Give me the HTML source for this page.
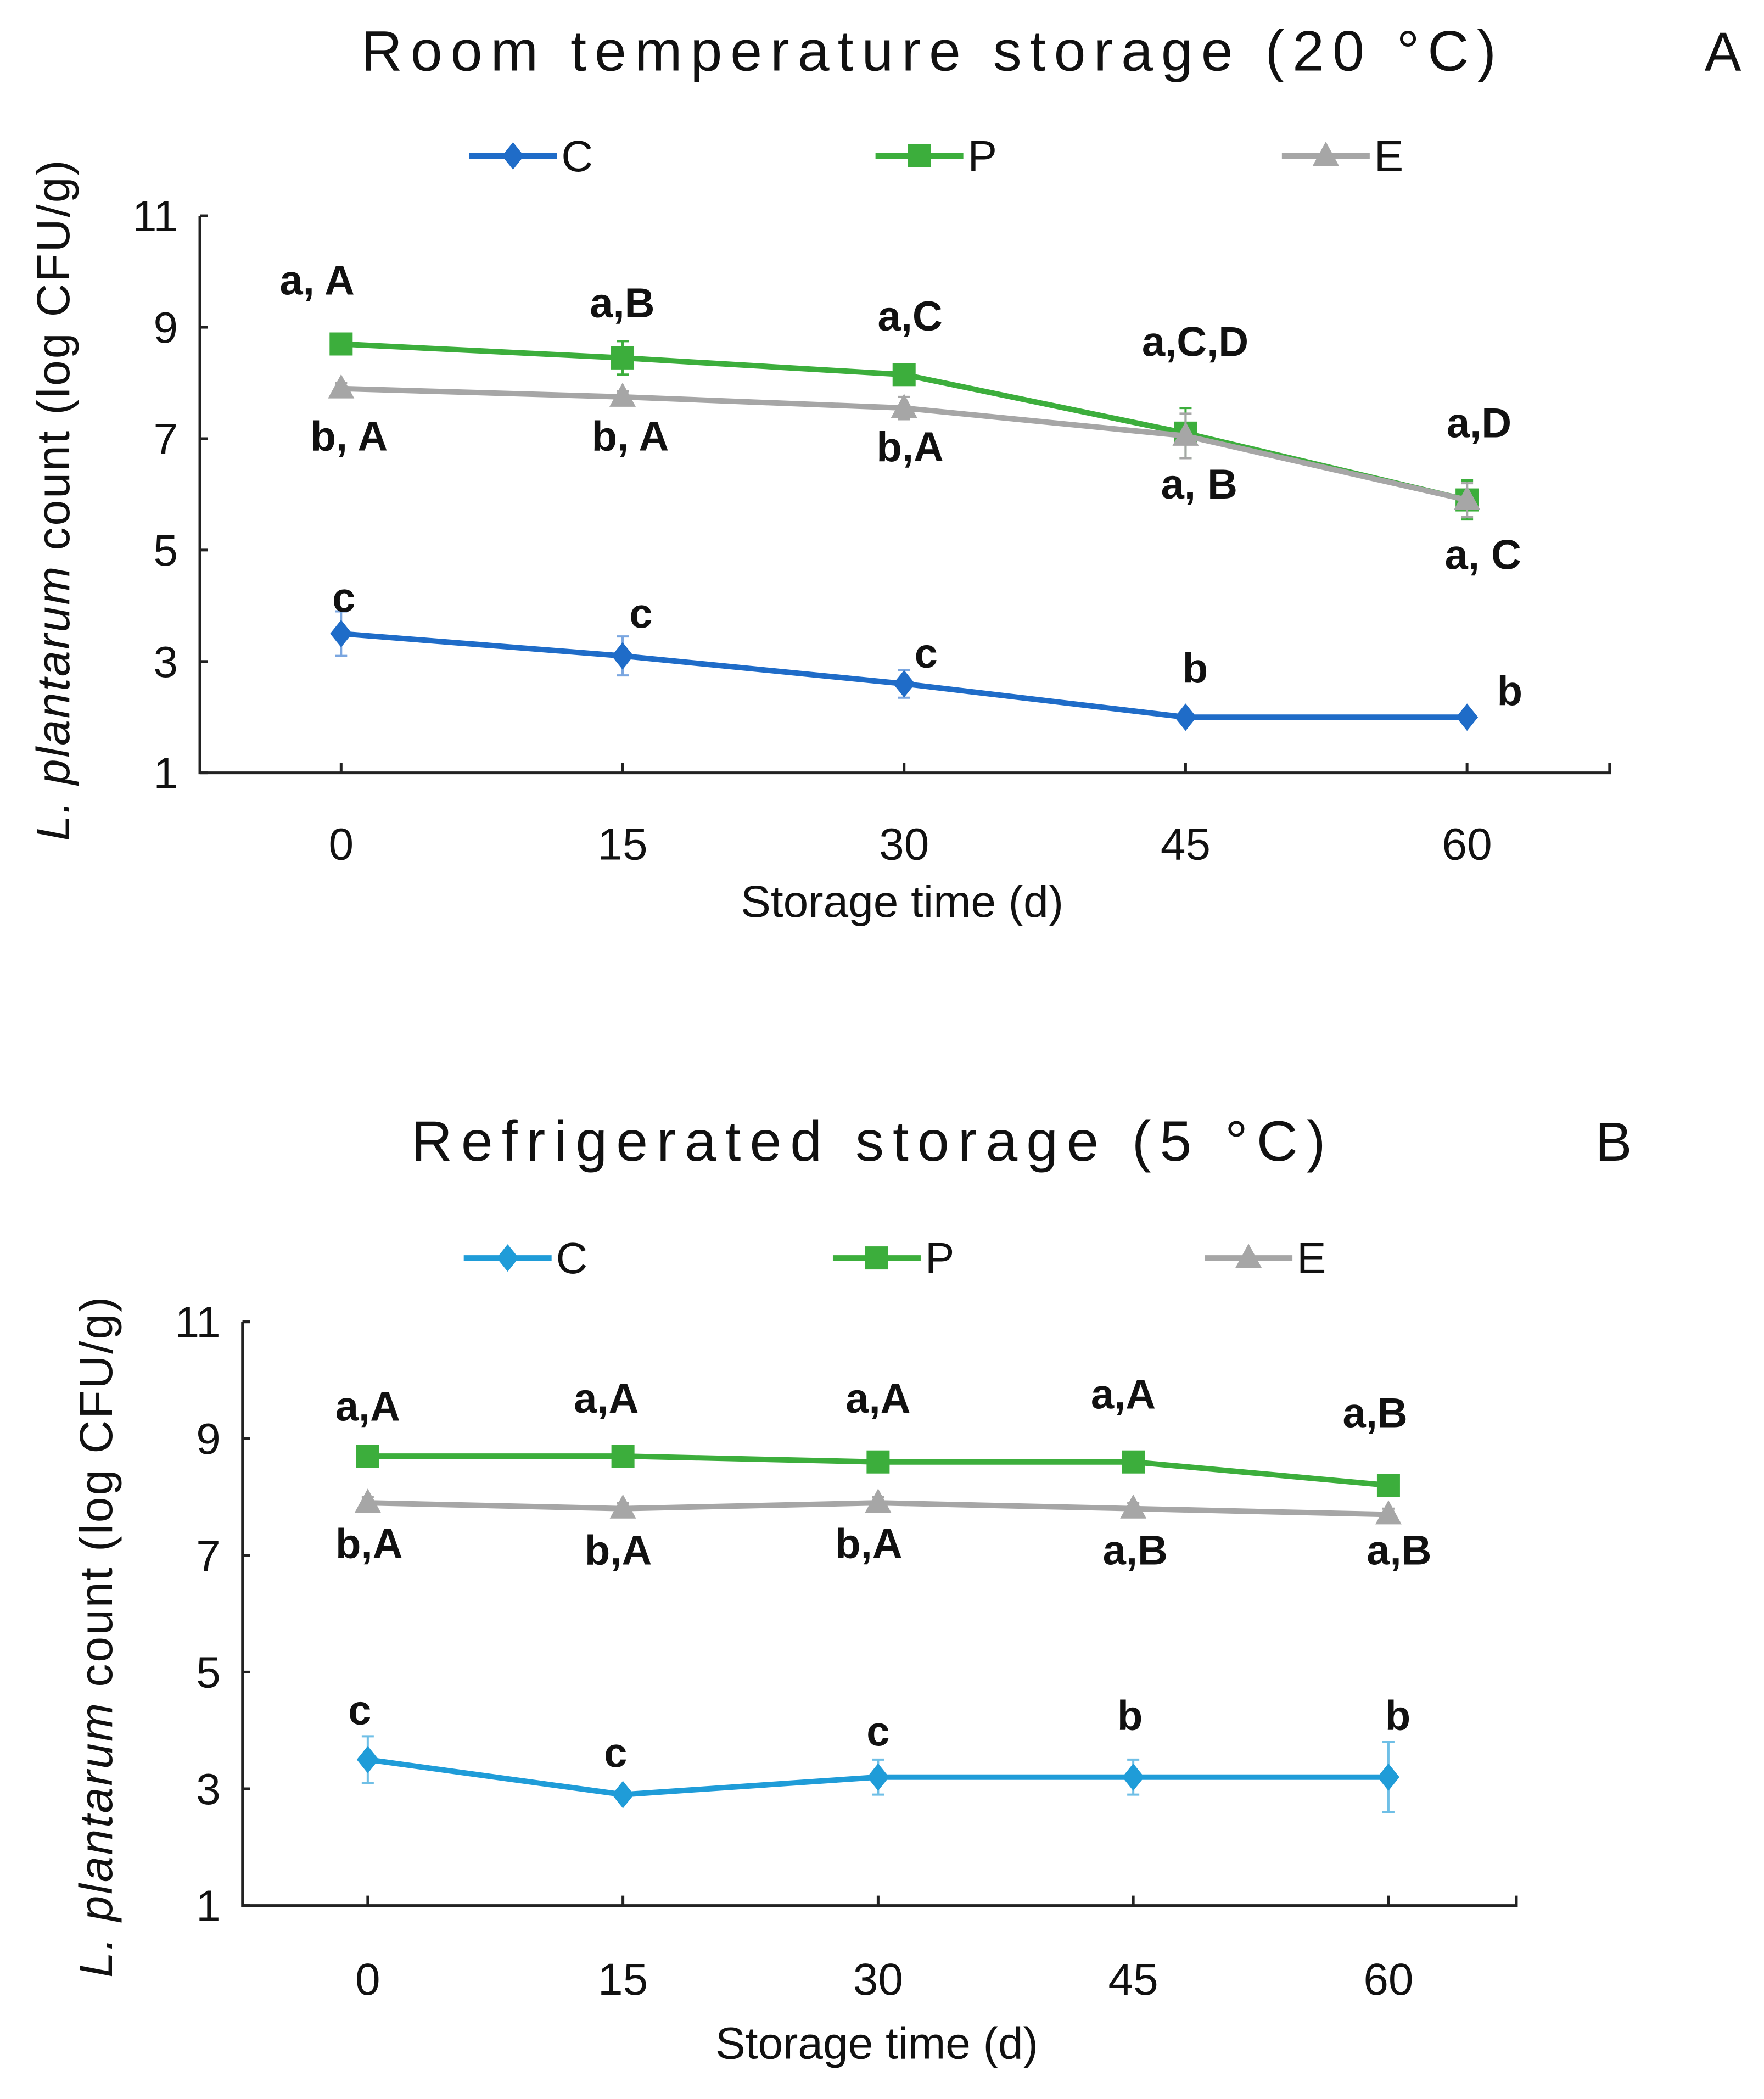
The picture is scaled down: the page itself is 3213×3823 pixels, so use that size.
<!DOCTYPE html>
<html><head><meta charset="utf-8"><style>
html,body{margin:0;padding:0;background:#fff;}
svg{display:block;font-family:"Liberation Sans",sans-serif;}
</style></head><body>
<svg id="fig" width="3213" height="3823" viewBox="0 0 3213 3823" xmlns="http://www.w3.org/2000/svg"></svg>
<script>
const days = [0, 15, 30, 45, 60];
const yTicks = [1, 3, 5, 7, 9, 11];
// Chart A (20 °C)
const aC = [3.5, 3.1, 2.6, 2.0, 2.0];
const aCerr = [0.4, 0.35, 0.25, 0.05, 0.05];
const aP = [8.7, 8.45, 8.15, 7.1, 5.9];
const aPerr = [0.1, 0.3, 0.15, 0.45, 0.35];
const aE = [7.9, 7.75, 7.55, 7.05, 5.9];
const aEerr = [0.1, 0.1, 0.2, 0.4, 0.3];
const aPlab = ["a, A", "a,B", "a,C", "a,C,D", "a,D"];
const aElab = ["b, A", "b, A", "b,A", "a, B", "a, C"];
const aClab = ["c", "c", "c", "b", "b"];
// Chart B (5 °C)
const bC = [3.5, 2.9, 3.2, 3.2, 3.2];
const bCerr = [0.4, 0.05, 0.3, 0.3, 0.6];
const bP = [8.7, 8.7, 8.6, 8.6, 8.2];
const bPerr = [0.1, 0.1, 0.1, 0.1, 0.1];
const bE = [7.9, 7.8, 7.9, 7.8, 7.7];
const bEerr = [0.1, 0.1, 0.1, 0.1, 0.1];
const bPlab = ["a,A", "a,A", "a,A", "a,A", "a,B"];
const bElab = ["b,A", "b,A", "b,A", "a,B", "a,B"];
const bClab = ["c", "c", "c", "b", "b"];

const NS = "http://www.w3.org/2000/svg";
const svg = document.getElementById("fig");
function mk(tag, attrs, parent, text) {
  const e = document.createElementNS(NS, tag);
  for (const k in attrs) e.setAttribute(k, attrs[k]);
  if (text !== undefined) e.textContent = text;
  (parent || svg).appendChild(e);
  return e;
}
function marker(g, kind, x, y, color) {
  let m;
  if (kind === "diamond") m = mk("polygon", {points: `${x},${y-25} ${x+20},${y} ${x},${y+25} ${x-20},${y}`, fill: color}, g);
  else if (kind === "square") m = mk("rect", {x: x-21, y: y-21, width: 42, height: 42, fill: color}, g);
  else m = mk("polygon", {points: `${x},${y-26} ${x+24},${y+18} ${x-24},${y+18}`, fill: color}, g);
  return m;
}
function chart(c) {
  const g = mk("g", {});
  
  
  const xs = d => c.x0 + (d - days[0]) / (days[days.length-1] - days[0]) * (c.x60 - c.x0);
  const ys = v => c.y1 + (v - 1) / 10 * (c.y11 - c.y1);
  const t = mk("text", {x: c.titleX, y: c.titleY, "font-size": 104, "text-anchor": "middle", fill: "#111", "letter-spacing": c.ls}, g, c.title);
  
  
  const pl = mk("text", {x: c.panelX, y: c.titleY, "font-size": 100, "text-anchor": "middle", fill: "#111"}, g, c.panel);
  
  
  const ax = mk("path", {d: `M${c.axX},${c.y11} H${c.axX+14} M${c.axX},${c.y11} V${c.y1} H${c.axR} V${c.y1-18}`, stroke: "#222", "stroke-width": 5, fill: "none"}, g);
  
  
  yTicks.forEach(v => {
    const y = ys(v);
    mk("line", {x1: c.axX, x2: c.axX+14, y1: y, y2: y, stroke: "#222", "stroke-width": 5}, g);
    const tl = mk("text", {x: c.axX-40, y: y+28, "font-size": 80, "text-anchor": "end", fill: "#111"}, g, v);
    
    
  });
  days.forEach(d => {
    const x = xs(d);
    mk("line", {x1: x, x2: x, y1: c.y1, y2: c.y1-18, stroke: "#222", "stroke-width": 5}, g);
    const tl = mk("text", {x: x, y: c.xTickY, "font-size": 82, "text-anchor": "middle", fill: "#111"}, g, d);
    
    
  });
  const xt = mk("text", {x: c.xTitleX, y: c.xTitleY, "font-size": 82, "text-anchor": "middle", fill: "#111"}, g, "Storage time (d)");
  
  
  const yt = mk("text", {x: 0, y: 0, "font-size": 84, "text-anchor": "middle", fill: "#111", "letter-spacing": 3, transform: `translate(${c.yTitleX},${c.yTitleY}) rotate(-90)`}, g);
  
  
  mk("tspan", {"font-style": "italic"}, yt, "L. plantarum");
  mk("tspan", {}, yt, "  count (log CFU/g)");
  c.series.forEach(s => {
    const sg = mk("g", {}, g);
    
    
    const pts = s.vals.map((v, i) => `${xs(days[i])},${ys(v)}`).join(" ");
    s.vals.forEach((v, i) => {
      const x = xs(days[i]);
      const e = mk("path", {d: `M${x},${ys(v - s.err[i])} V${ys(v + s.err[i])} M${x-11},${ys(v - s.err[i])} h22 M${x-11},${ys(v + s.err[i])} h22`, stroke: s.errColor, "stroke-width": 4, fill: "none"}, sg);
      
      
    });
    const ln = mk("polyline", {points: pts, fill: "none", stroke: s.color, "stroke-width": 10}, sg);
    
    
    s.vals.forEach((v, i) => {
      const m = marker(sg, s.marker, xs(days[i]), ys(v), s.color);
      
      
    });
    s.labs.forEach((l, i) => {
      const tl = mk("text", {x: s.lx[i], y: s.ly[i] + 27, "font-size": 76, "font-weight": "bold", "text-anchor": "middle", fill: "#111"}, sg, l);
      
      
    });
    const lg = mk("g", {}, g);
    
    
    mk("line", {x1: s.legX-80, x2: s.legX+80, y1: c.legY, y2: c.legY, stroke: s.color, "stroke-width": 10}, lg);
    marker(lg, s.marker, s.legX, c.legY, s.color);
    mk("text", {x: s.legX+88, y: c.legY+28, "font-size": 80, fill: "#111"}, lg, s.key);
  });
}
const k = 2.427;
chart({name: "chart-room-temperature", title: "Room temperature storage (20 °C)", panel: "A", ls: 15,
  titleX: 700*k, titleY: 53*k, panelX: 1293*k, axX: 150*k, axR: 1208*k, y11: 162*k, y1: 580*k,
  x0: 256*k, x60: 1101*k, xTickY: 645*k, xTitleX: 677*k, xTitleY: 688*k, yTitleX: 52*k, yTitleY: 375*k, legY: 117*k,
  series: [
    {key: "C", vals: aC, err: aCerr, labs: aClab, color: "#1f6cc8", errColor: "#7aa6e0", marker: "diamond", legX: 385*k,
      lx: [258,481,695,897,1133].map(v=>v*k), ly: [448,460,490,501,518].map(v=>v*k)},
    {key: "P", vals: aP, err: aPerr, labs: aPlab, color: "#3cae3c", errColor: "#3cae3c", marker: "square", legX: 690*k,
      lx: [238,467,683,897,1110].map(v=>v*k), ly: [210,227,237,256,317].map(v=>v*k)},
    {key: "E", vals: aE, err: aEerr, labs: aElab, color: "#a6a6a6", errColor: "#a6a6a6", marker: "triangle", legX: 995*k,
      lx: [262,473,683,900,1113].map(v=>v*k), ly: [327,327,335,363,416].map(v=>v*k)}
  ]});
chart({name: "chart-refrigerated", title: "Refrigerated storage (5 °C)", panel: "B", ls: 16,
  titleX: 655*k, titleY: 871*k, panelX: 1211*k, axX: 182*k, axR: 1138*k, y11: 992*k, y1: 1430*k,
  x0: 276*k, x60: 1042*k, xTickY: 1497*k, xTitleX: 658*k, xTitleY: 1545*k, yTitleX: 84*k, yTitleY: 1228*k, legY: 944*k,
  series: [
    {key: "C", vals: bC, err: bCerr, labs: bClab, color: "#1f9cd8", errColor: "#6fbfe6", marker: "diamond", legX: 381*k,
      lx: [270,462,659,848,1049].map(v=>v*k), ly: [1283,1315,1299,1287,1287].map(v=>v*k)},
    {key: "P", vals: bP, err: bPerr, labs: bPlab, color: "#3cae3c", errColor: "#3cae3c", marker: "square", legX: 658*k,
      lx: [276,455,659,843,1032].map(v=>v*k), ly: [1055,1049,1049,1046,1060].map(v=>v*k)},
    {key: "E", vals: bE, err: bEerr, labs: bElab, color: "#a6a6a6", errColor: "#a6a6a6", marker: "triangle", legX: 937*k,
      lx: [277,464,652,852,1050].map(v=>v*k), ly: [1158,1163,1158,1163,1163].map(v=>v*k)}
  ]});
</script>
</body></html>
